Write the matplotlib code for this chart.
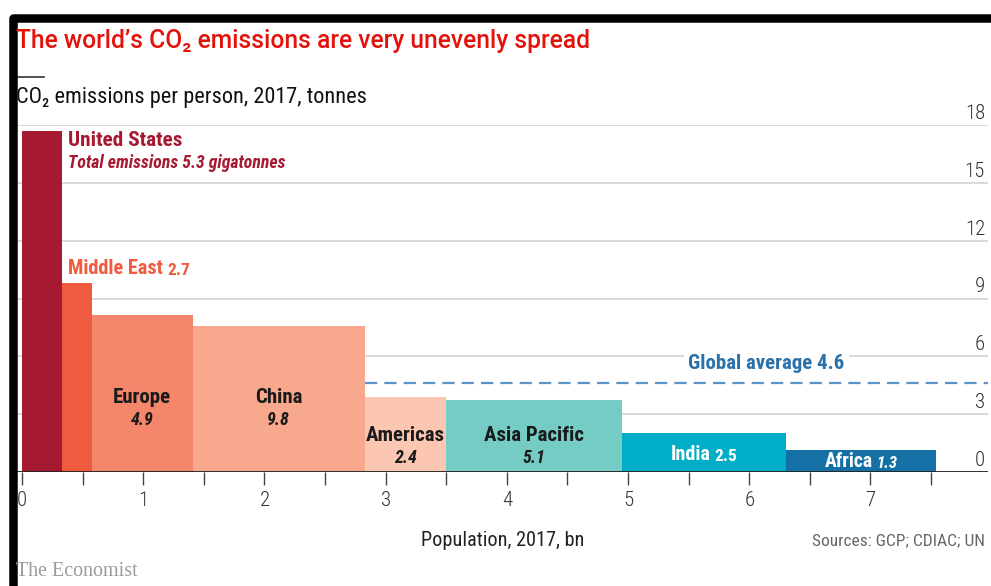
import matplotlib
matplotlib.use('Agg')
import matplotlib.pyplot as plt
from matplotlib import transforms
import numpy as np

# ---------------- data ----------------
regions = ['United States', 'Middle East', 'Europe', 'China', 'Americas',
           'Asia Pacific', 'India', 'Africa']
population_bn = [0.327, 0.247, 0.833, 1.420, 0.668, 1.458, 1.347, 1.244]
per_capita_t = [17.67, 9.79, 8.12, 7.58, 3.90, 3.76, 2.00, 1.15]
total_gt = ['5.3', '2.7', '4.9', '9.8', '2.4', '5.1', '2.5', '1.3']
global_avg = 4.6
y_ticks = [0, 3, 6, 9, 12, 15, 18]
x_labels = [0, 1, 2, 3, 4, 5, 6, 7]
x_minor = [0.5, 1.5, 2.5, 3.5, 4.5, 5.5, 6.5, 7.5]

colors = ['#a51931', '#f05a3e', '#f4866b', '#f8a98d', '#fbc7b2',
          '#74ccc4', '#00aec7', '#1470a5']

FONT = ['Roboto Condensed', 'Roboto', 'DejaVu Sans']
plt.rcParams['font.family'] = FONT

W, H = 991, 586
fig = plt.figure(figsize=(W / 100, H / 100), dpi=100)
fig.patch.set_facecolor('white')

# axes placement in pixels
ax_l, ax_r, ax_b, ax_t = 16, 988, 472, 125
ax = fig.add_axes([ax_l / W, 1 - ax_b / H, (ax_r - ax_l) / W, (ax_b - ax_t) / H])
x0 = -0.05
x1 = x0 + (ax_r - ax_l) / 121.2
ax.set_xlim(x0, x1)
ax.set_ylim(0, 18)

lefts = np.concatenate([[0], np.cumsum(population_bn)[:-1]])
rights = lefts + np.array(population_bn)
centers = lefts + np.array(population_bn) / 2

# gridlines
for yt in y_ticks[1:]:
    ax.axhline(yt, color='#d0d0d0', lw=1.1, zorder=0)
ax.axhline(0, color='#222222', lw=1.3, zorder=5)

ax.bar(lefts, per_capita_t, width=population_bn, align='edge',
       color=colors, linewidth=0, zorder=2)

# global average dashed line
ax.hlines(global_avg, rights[3], x1, colors='#5a93c8', lw=1.6,
          linestyles=(0, (5.5, 3.2)), zorder=3)
ax.text(6.14, 5.65, f'Global average {global_avg}', ha='center', va='center',
        fontsize=15, color='#2b71aa', fontweight='bold', zorder=4,
        bbox=dict(facecolor='white', edgecolor='none', pad=3))

# spines / ticks
for s in ax.spines.values():
    s.set_visible(False)
ax.set_yticks([])
ax.set_xticks(x_labels)
ax.set_xticks(x_minor, minor=True)
ax.set_xticklabels([str(v) for v in x_labels])
ax.tick_params(axis='x', which='both', length=9, width=1, color='#444444',
               direction='out', pad=5, labelsize=15, labelcolor='#333333')
for lab in ax.get_xticklabels():
    lab.set_fontweight('light')

# right-side y labels
ytrans = transforms.blended_transform_factory(ax.transAxes, ax.transData)
for yt in y_ticks:
    ax.annotate(str(yt), xy=(0.997, yt), xycoords=ytrans, xytext=(0, 1.5),
                textcoords='offset points', ha='right', va='bottom',
                fontsize=15, color='#333333', fontweight='light')

# ---------------- bar labels ----------------
dark = '#1a1a1a'
# United States
ax.text(0.38, 17.2, regions[0], ha='left', va='center', fontsize=15.3,
        color=colors[0], fontweight='bold')
ax.text(0.38, 16.05, f'Total emissions {total_gt[0]} gigatonnes', ha='left',
        va='center', fontsize=12.8, color=colors[0], style='italic',
        fontweight='bold')
# Middle East
t_me = ax.text(0.38, 10.25, regions[1], ha='left', va='baseline', fontsize=14.6,
               color=colors[1], fontweight='bold')
ax.annotate(total_gt[1], xy=(1, 0), xycoords=t_me, xytext=(3, 0),
            textcoords='offset points', ha='left', va='bottom', fontsize=12.5,
            color=colors[1], fontweight='bold')

# Europe, China, Americas, Asia Pacific: name + italic value
name_y = {2: 3.84, 3: 3.84, 4: 1.87, 5: 1.87}
for i, yy in name_y.items():
    ax.text(centers[i], yy, regions[i], ha='center', va='center',
            fontsize=15, color=dark, fontweight='bold')
    ax.text(centers[i], yy - 1.15, total_gt[i], ha='center', va='center',
            fontsize=13, color=dark, style='italic', fontweight='bold')

# India & Africa: white inline labels
inline = {6: (0.62, 14.5, 12.5, 'normal'), 7: (0.28, 14.2, 12, 'italic')}
fig.canvas.draw()
renderer = fig.canvas.get_renderer()
for i, (yy, fs1, fs2, st) in inline.items():
    t1 = ax.text(centers[i], yy, regions[i], ha='right', va='baseline',
                 fontsize=fs1, color='white', fontweight='bold')
    t2 = ax.annotate(total_gt[i], xy=(1, 0), xycoords=t1, xytext=(3, 0),
                     textcoords='offset points', ha='left', va='bottom',
                     fontsize=fs2, color='white', style=st, fontweight='bold')
    fig.canvas.draw()
    w1 = t1.get_window_extent(renderer).width
    w2 = t2.get_window_extent(renderer).width + 3 * 100 / 72
    shift = (w1 + w2) / 2 - w2
    t1.set_transform(ax.transData + transforms.Affine2D().translate(shift, 0))

# ---------------- titles & footers ----------------
fig.text(16 / W, 1 - 41 / H, 'The world\u2019s CO\u2082 emissions are very unevenly spread',
         ha='left', va='center', fontsize=17.7, color='#e3120b', fontweight='medium',
         family=['Roboto', 'DejaVu Sans'])
fig.add_artist(plt.Line2D([16 / W, 44 / W], [1 - 77 / H, 1 - 77 / H],
                          color='#333333', lw=1.2, transform=fig.transFigure))
fig.text(16 / W, 1 - 97 / H, 'CO\u2082 emissions per person, 2017, tonnes',
         ha='left', va='center', fontsize=16, color='#111111')
fig.text(503 / W, 1 - 541 / H, 'Population, 2017, bn', ha='center', va='center',
         fontsize=14.6, color='#222222')
fig.text(985 / W, 1 - 541 / H, 'Sources: GCP; CDIAC; UN', ha='right', va='center',
         fontsize=12.5, color='#666666')
fig.text(16 / W, 1 - 571 / H, 'The Economist', ha='left', va='center',
         fontsize=14.4, color='#9a9a9a', family=['Liberation Serif', 'DejaVu Serif'])

# frame: black border along the top and left edges, rounded outer corner
frame = plt.Line2D([12.5, 12.5, 1010], [-10, H - 17.5, H - 17.5],
                   transform=transforms.IdentityTransform(), color='black',
                   lw=8.5 * 72 / 100, solid_joinstyle='round', solid_capstyle='butt')
fig.add_artist(frame)

fig.savefig('out.png', dpi=100, facecolor='white')
